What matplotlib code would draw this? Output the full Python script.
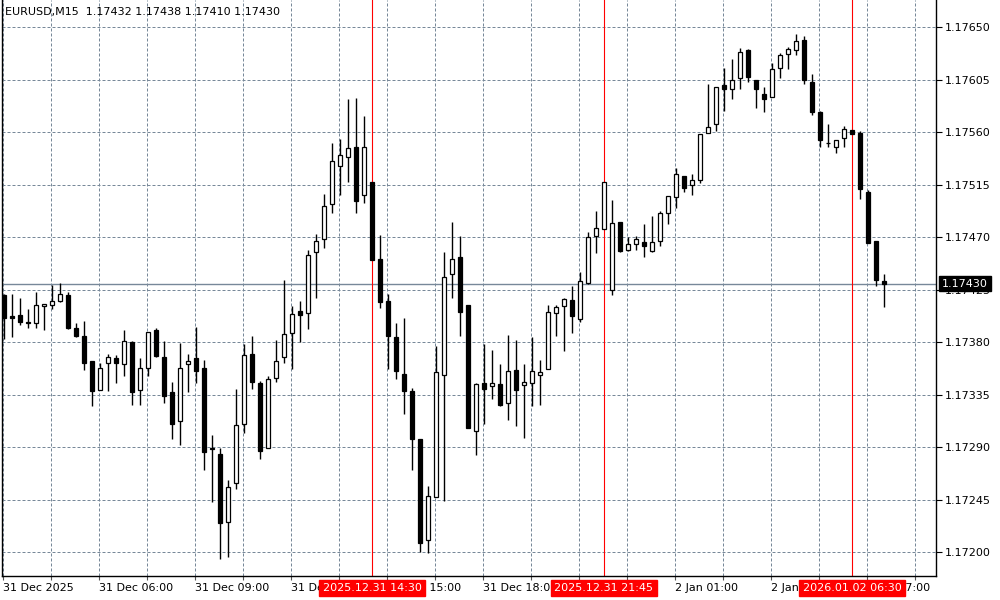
import numpy as np
import matplotlib
matplotlib.use("Agg")
import matplotlib.pyplot as plt

symbol = "EURUSD,M15"

opens = [1.17420, 1.17402, 1.17403, 1.17397, 1.17396, 1.17411, 1.17412, 1.17415, 1.17420, 1.17392,
         1.17385, 1.17364, 1.17339, 1.17362, 1.17366, 1.17361, 1.17380, 1.17339, 1.17358, 1.17390,
         1.17367, 1.17337, 1.17312, 1.17361, 1.17366, 1.17358, 1.17289, 1.17284, 1.17226, 1.17259,
         1.17310, 1.17370, 1.17345, 1.17289, 1.17349, 1.17367, 1.17388, 1.17407, 1.17405, 1.17457,
         1.17468, 1.17498, 1.17531, 1.17539, 1.17547, 1.17506, 1.17517, 1.17451, 1.17415, 1.17384,
         1.17353, 1.17338, 1.17297, 1.17210, 1.17247, 1.17352, 1.17438, 1.17453, 1.17412, 1.17304,
         1.17345, 1.17342, 1.17344, 1.17328, 1.17356, 1.17343, 1.17345, 1.17352, 1.17357, 1.17405,
         1.17411, 1.17416, 1.17400, 1.17431, 1.17471, 1.17477, 1.17425, 1.17483, 1.17459, 1.17464,
         1.17466, 1.17458, 1.17467, 1.17491, 1.17504, 1.17522, 1.17515, 1.17519, 1.17559, 1.17567,
         1.17600, 1.17597, 1.17606, 1.17630, 1.17605, 1.17593, 1.17590, 1.17615, 1.17627, 1.17630,
         1.17639, 1.17603, 1.17577, 1.17551, 1.17547, 1.17555, 1.17562, 1.17559, 1.17509, 1.17467,
         1.17432]
highs = [1.17421, 1.17421, 1.17418, 1.17408, 1.17423, 1.17413, 1.17429, 1.17431, 1.17423, 1.17396,
         1.17398, 1.17364, 1.17362, 1.17370, 1.17369, 1.17390, 1.17381, 1.17366, 1.17389, 1.17392,
         1.17381, 1.17346, 1.17379, 1.17370, 1.17393, 1.17365, 1.17300, 1.17289, 1.17262, 1.17340,
         1.17378, 1.17385, 1.17347, 1.17351, 1.17382, 1.17433, 1.17411, 1.17415, 1.17459, 1.17473,
         1.17507, 1.17551, 1.17554, 1.17588, 1.17589, 1.17574, 1.17517, 1.17472, 1.17421, 1.17396,
         1.17401, 1.17341, 1.17297, 1.17257, 1.17377, 1.17457, 1.17483, 1.17471, 1.17412, 1.17345,
         1.17378, 1.17373, 1.17361, 1.17386, 1.17382, 1.17361, 1.17384, 1.17365, 1.17412, 1.17412,
         1.17418, 1.17428, 1.17440, 1.17474, 1.17492, 1.17517, 1.17502, 1.17483, 1.17470, 1.17471,
         1.17481, 1.17488, 1.17492, 1.17505, 1.17529, 1.17522, 1.17524, 1.17558, 1.17601, 1.17599,
         1.17615, 1.17623, 1.17632, 1.17631, 1.17605, 1.17599, 1.17619, 1.17628, 1.17633, 1.17644,
         1.17642, 1.17610, 1.17578, 1.17567, 1.17553, 1.17565, 1.17562, 1.17561, 1.17510, 1.17467,
         1.17438]
lows = [1.17383, 1.17384, 1.17395, 1.17392, 1.17392, 1.17390, 1.17408, 1.17414, 1.17391, 1.17384,
        1.17356, 1.17325, 1.17339, 1.17338, 1.17345, 1.17351, 1.17326, 1.17326, 1.17351, 1.17367,
        1.17328, 1.17297, 1.17292, 1.17337, 1.17345, 1.17270, 1.17243, 1.17194, 1.17196, 1.17254,
        1.17302, 1.17340, 1.17280, 1.17289, 1.17346, 1.17362, 1.17357, 1.17380, 1.17391, 1.17418,
        1.17461, 1.17491, 1.17506, 1.17517, 1.17491, 1.17499, 1.17450, 1.17409, 1.17357, 1.17348,
        1.17318, 1.17270, 1.17200, 1.17199, 1.17247, 1.17244, 1.17418, 1.17385, 1.17306, 1.17283,
        1.17310, 1.17331, 1.17325, 1.17313, 1.17308, 1.17298, 1.17325, 1.17326, 1.17357, 1.17385,
        1.17372, 1.17388, 1.17397, 1.17430, 1.17456, 1.17477, 1.17420, 1.17457, 1.17458, 1.17459,
        1.17453, 1.17457, 1.17462, 1.17481, 1.17495, 1.17509, 1.17506, 1.17516, 1.17559, 1.17561,
        1.17578, 1.17588, 1.17597, 1.17603, 1.17581, 1.17577, 1.17590, 1.17606, 1.17614, 1.17626,
        1.17601, 1.17575, 1.17547, 1.17547, 1.17542, 1.17547, 1.17558, 1.17503, 1.17465, 1.17428,
        1.17410]
closes = [1.17401, 1.17401, 1.17397, 1.17396, 1.17412, 1.17413, 1.17415, 1.17421, 1.17392, 1.17385,
          1.17362, 1.17338, 1.17358, 1.17367, 1.17362, 1.17381, 1.17337, 1.17358, 1.17389, 1.17368,
          1.17334, 1.17310, 1.17358, 1.17364, 1.17355, 1.17286, 1.17288, 1.17225, 1.17256, 1.17309,
          1.17369, 1.17346, 1.17287, 1.17348, 1.17364, 1.17387, 1.17404, 1.17403, 1.17455, 1.17467,
          1.17497, 1.17535, 1.17540, 1.17546, 1.17501, 1.17547, 1.17450, 1.17414, 1.17385, 1.17355,
          1.17338, 1.17297, 1.17208, 1.17248, 1.17354, 1.17436, 1.17451, 1.17406, 1.17306, 1.17344,
          1.17340, 1.17345, 1.17326, 1.17355, 1.17339, 1.17346, 1.17355, 1.17354, 1.17406, 1.17410,
          1.17417, 1.17402, 1.17432, 1.17470, 1.17478, 1.17517, 1.17482, 1.17458, 1.17464, 1.17468,
          1.17462, 1.17466, 1.17491, 1.17505, 1.17524, 1.17512, 1.17519, 1.17558, 1.17564, 1.17599,
          1.17597, 1.17605, 1.17629, 1.17607, 1.17597, 1.17588, 1.17614, 1.17626, 1.17631, 1.17638,
          1.17605, 1.17577, 1.17553, 1.17551, 1.17553, 1.17563, 1.17558, 1.17511, 1.17465, 1.17433,
          1.17430]

price_ticks = [1.17200, 1.17245, 1.17290, 1.17335, 1.17380, 1.17425, 1.17470, 1.17515, 1.17560, 1.17605, 1.17650]
time_idx = [0, 12, 24, 36, 48, 60, 72, 84, 96, 108]
time_labels = ["31 Dec 2025", "31 Dec 06:00", "31 Dec 09:00", "31 Dec 12:00", "31 Dec 15:00",
               "31 Dec 18:00", "31 Dec 21:00", "2 Jan 01:00", "2 Jan 04:00", "2 Jan 07:00"]
marker_idx = [46, 75, 106]
marker_labels = ["2025.12.31 14:30", "2025.12.31 21:45", "2026.01.02 06:30"]

o = np.array(opens)
h = np.array(highs)
l = np.array(lows)
c = np.array(closes)
x = np.arange(len(o))

grid_col = "#778899"

fig = plt.figure(figsize=(10, 6), dpi=100)
ax = fig.add_axes([0.002, 0.04, 0.934, 0.96])
ax.set_xlim(-0.25, 116.5)
ax.set_ylim(1.1717951, 1.1767314)

# candles
ax.vlines(x, l, h, color="black", linewidth=1.0, zorder=3)
up = c >= o
body_h = np.maximum(np.abs(c - o), 1e-7)
body_b = np.minimum(o, c)
ax.bar(x[up], body_h[up], bottom=body_b[up], width=0.55, color="white",
       edgecolor="black", linewidth=0.9, zorder=4)
ax.bar(x[~up], body_h[~up], bottom=body_b[~up], width=0.55, color="black",
       edgecolor="black", linewidth=0.9, zorder=4)

# grid
ax.set_xticks([i - 0.125 for i in range(0, 117, 6)])
labels = []
for i in range(0, 117, 6):
    labels.append(time_labels[time_idx.index(i)] if i in time_idx else "")
ax.set_xticklabels(labels)
for t in ax.get_xticklabels():
    t.set_ha("left")
ax.set_yticks(price_ticks)
ax.set_yticklabels(["%.5f" % p for p in price_ticks])
ax.yaxis.tick_right()
ax.grid(True, color=grid_col, linestyle=(0, (3, 2)), linewidth=0.72)
ax.set_axisbelow(True)
ax.tick_params(axis="both", labelsize=8, length=4, width=0.8, color="black", colors="black")
ax.tick_params(axis="x", length=3, pad=2, color="#555555")
ax.tick_params(axis="y", pad=2)
ax.spines["top"].set_visible(False)
for s in ["left", "right", "bottom"]:
    ax.spines[s].set_linewidth(1.0)
    ax.spines[s].set_color("black")

# current price line and label
ax.axhline(c[-1], color=grid_col, linewidth=1.0, zorder=2)
ax.annotate("%.5f" % c[-1], xy=(1, c[-1]), xycoords=("axes fraction", "data"),
            xytext=(4.3, 0), textcoords="offset points", va="center", ha="left",
            fontsize=8, color="white", annotation_clip=False, zorder=10,
            bbox=dict(boxstyle="square,pad=0.25", fc="black", ec="black"))

# vertical marker lines with time labels
for mi, ml in zip(marker_idx, marker_labels):
    ax.axvline(mi, color="red", linewidth=0.8, zorder=2.5)
    ax.annotate(ml, xy=(mi, 0), xycoords=("data", "axes fraction"),
                xytext=(0, -8.6), textcoords="offset points", ha="center", va="center",
                fontsize=8, color="white", annotation_clip=False, zorder=10,
                bbox=dict(boxstyle="square,pad=0.3", fc="red", ec="red"))

# header
ax.text(0.003, 0.979, "%s  %.5f %.5f %.5f %.5f" % (symbol, o[-1], h[-1], l[-1], c[-1]),
        transform=ax.transAxes, fontsize=8, color="black", ha="left", va="center", zorder=10)

fig.savefig("out.png", dpi=100, facecolor="white")
